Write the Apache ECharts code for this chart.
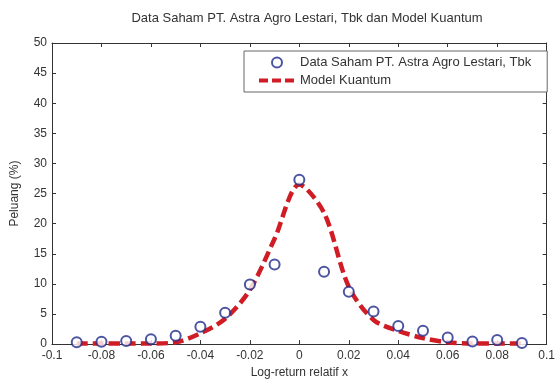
<!DOCTYPE html>
<html>
<head>
<meta charset="utf-8">
<script src="https://cdn.jsdelivr.net/npm/echarts@6/dist/echarts.min.js"></script>
<style>
  html, body { margin: 0; padding: 0; background: #fff; }
  #chart { width: 558px; height: 384px; }
</style>
</head>
<body>
<div id="chart"></div>
<script>
// log-return positions of the empirical points
let xData = [-0.09, -0.08, -0.07, -0.06, -0.05, -0.04, -0.03, -0.02, -0.01, 0,
             0.01, 0.02, 0.03, 0.04, 0.05, 0.06, 0.07, 0.08, 0.09];
// Data Saham PT. Astra Agro Lestari, Tbk (%)
let sahamData = [0.3, 0.4, 0.5, 0.8, 1.4, 2.9, 5.2, 9.9, 13.2, 27.3,
                 12.0, 8.7, 5.4, 3.0, 2.2, 1.1, 0.45, 0.7, 0.2];
// Model Kuantum (%)
let modelData = [0.1, 0.1, 0.1, 0.1, 0.3, 1.8, 4.2, 9.0, 17.5, 26.5,
                 21.8, 9.5, 4.0, 2.2, 1.0, 0.3, 0.1, 0.1, 0.1];

let chart = echarts.init(document.getElementById("chart"));

let fmtX = function(v) {
    return parseFloat(v.toFixed(2)).toString();
};
let inTick = { inside: true, length: 4, lineStyle: { color: "#333" } };
let frameLine = { show: true, onZero: false, lineStyle: { color: "#333" } };

let option = {
    animation: false,
    textStyle: { fontFamily: "Liberation Sans, Arial, sans-serif" },
    title: {
        text: "Data Saham PT. Astra Agro Lestari, Tbk dan Model Kuantum",
        left: 302,
        textAlign: "center",
        top: 7,
        textStyle: { fontSize: 13, fontWeight: "normal", color: "#333" }
    },
    grid: { left: 52, right: 7, top: 43, bottom: 39 },
    legend: {
        orient: "vertical",
        left: 244,
        top: 51,
        padding: [5, 16, 5, 13],
        borderColor: "#666",
        borderWidth: 1,
        backgroundColor: "#fff",
        itemWidth: 36,
        itemHeight: 10,
        itemGap: 5,
        textStyle: { fontSize: 13, color: "#333" },
        data: [
            { name: "Data Saham PT. Astra Agro Lestari, Tbk" },
            {
                name: "Model Kuantum",
                itemStyle: { opacity: 0 },
                lineStyle: { width: 4, type: [9, 4], color: "#d01c24" }
            }
        ]
    },
    xAxis: [
        {
            type: "value",
            min: -0.1,
            max: 0.1,
            interval: 0.02,
            name: "Log-return relatif x",
            nameLocation: "middle",
            nameGap: 20,
            nameTextStyle: { fontSize: 12, color: "#333" },
            axisLine: frameLine,
            axisTick: inTick,
            axisLabel: { fontSize: 12, color: "#333", margin: 6, formatter: fmtX },
            splitLine: { show: false }
        },
        {
            type: "value",
            position: "top",
            min: -0.1,
            max: 0.1,
            interval: 0.02,
            axisLine: frameLine,
            axisTick: inTick,
            axisLabel: { show: false },
            splitLine: { show: false }
        }
    ],
    yAxis: [
        {
            type: "value",
            min: 0,
            max: 50,
            interval: 5,
            name: "Peluang (%)",
            nameLocation: "middle",
            nameGap: 31,
            nameTextStyle: { fontSize: 12, color: "#333" },
            axisLine: frameLine,
            axisTick: inTick,
            axisLabel: { fontSize: 12, color: "#333", margin: 5 },
            splitLine: { show: false }
        },
        {
            type: "value",
            position: "right",
            min: 0,
            max: 50,
            interval: 5,
            axisLine: frameLine,
            axisTick: inTick,
            axisLabel: { show: false },
            splitLine: { show: false }
        }
    ],
    series: [
        {
            name: "Model Kuantum",
            type: "line",
            smooth: 0.3,
            showSymbol: false,
            symbol: "none",
            z: 2,
            lineStyle: { color: "#d01c24", width: 4.5, type: [11, 5] },
            itemStyle: { color: "#d01c24" },
            data: xData.map(function(x, i) { return [x, modelData[i]]; })
        },
        {
            name: "Data Saham PT. Astra Agro Lestari, Tbk",
            type: "scatter",
            symbol: "emptyCircle",
            symbolSize: 10,
            z: 3,
            itemStyle: { color: "#1f2a8a", borderColor: "#1f2a8a", borderWidth: 1.6 },
            data: xData.map(function(x, i) { return [x, sahamData[i]]; })
        }
    ]
};

chart.setOption(option, true);
window.onresize = () => {
    chart.resize();
};
</script>
</body>
</html>
